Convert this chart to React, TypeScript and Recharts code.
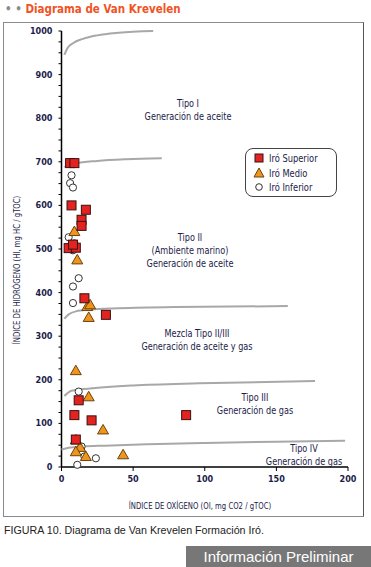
import React from 'react';
import { ScatterChart, Scatter, XAxis, YAxis } from 'recharts';

// Iró Superior (squares)
const superiorOI = [6, 9, 7, 17, 14, 14, 5, 10, 8, 16, 31, 12, 9, 21, 10, 87];
const superiorHI = [697, 697, 600, 590, 567, 553, 502, 503, 510, 387, 349, 153, 119, 107, 63, 119];

// Iró Medio (triangles)
const medioOI = [9, 11, 18, 20, 19, 10, 19, 29, 10, 13, 10, 17, 43];
const medioHI = [540, 475, 368, 372, 343, 221, 161, 85, 62, 45, 35, 24, 28];

// Iró Inferior (circles)
const inferiorOI = [7, 6, 8, 5, 9, 8, 12, 8, 8, 12, 14, 16, 24, 11];
const inferiorHI = [669, 651, 641, 527, 513, 497, 433, 414, 376, 173, 47, 24, 20, 5];

// boundary curves between kerogen types
const tipoIOI = [2, 4, 8, 15, 25, 40, 64];
const tipoIHI = [945, 960, 972, 982, 990, 996, 1000];
const tipoIIIOI = [2, 10, 25, 45, 70];
const tipoIIIHI = [688, 696, 702, 706, 708];
const mezclaOI = [2, 5, 10, 20, 40, 80, 158];
const mezclaHI = [340, 350, 357, 361, 364, 367, 369];
const tipoIIIOI2 = [2, 7, 20, 50, 96, 177];
const tipoIIIHI2 = [163, 175, 180, 187, 192, 197];
const tipoIVOI = [0, 5, 15, 30, 60, 100, 150, 198];
const tipoIVHI = [40, 44, 47, 49, 52, 55, 58, 60];

const yTicks = Array.from({ length: 41 }, (_, i) => i * 25);
const xTicks = [0, 50, 100, 150, 200];

const zip = (xs: number[], ys: number[]) => xs.map((oi, i) => ({ oi, hi: ys[i] }));

const NARROW = '"Liberation Sans Narrow", "DejaVu Sans Condensed", "Liberation Sans", Arial, sans-serif';
const NAVY = '#1c1c4a';

const Square = (p: any) => (
  <rect x={p.cx - 4.5} y={p.cy - 4.5} width={9} height={9} fill="#e3231f" stroke="#3b1010" strokeWidth={1} />
);
const Triangle = (p: any) => (
  <path d={`M${p.cx},${p.cy - 5.5} L${p.cx + 5.5},${p.cy + 4} L${p.cx - 5.5},${p.cy + 4} Z`} fill="#f0951c" stroke="#6a4210" strokeWidth={1} />
);
const Circle = (p: any) => (
  <circle cx={p.cx} cy={p.cy} r={3.6} fill="#fff" stroke="#333" strokeWidth={1} />
);
const NoDot = () => <g />;

const YTick = ({ x, y, payload }: any) => {
  const major = payload.value % 100 === 0;
  return (
    <g>
      <line x1={x - 3} x2={x} y1={y} y2={y} stroke="#000" strokeWidth={1} />
      {major && (
        <text x={x - 9} y={y} dy={3} textAnchor="end" fontSize={9} fontWeight={700} fill={NAVY} fontFamily={NARROW}>
          {payload.value}
        </text>
      )}
    </g>
  );
};

const Note = ({ x, y, lines }: { x: number; y: number; lines: string[] }) => (
  <div
    style={{
      position: 'absolute', left: x, top: y, transform: 'translateX(-50%) scaleX(0.86)', textAlign: 'center',
      fontFamily: NARROW, fontSize: 10.5, lineHeight: '13px', color: NAVY, whiteSpace: 'nowrap',
    }}
  >
    {lines.map((l) => <div key={l}>{l}</div>)}
  </div>
);

const boundary = { stroke: '#a8a8a8', strokeWidth: 2 };

export default function App() {
  return (
    <div style={{ position: 'absolute', left: 0, top: 0, width: 371, height: 567, background: '#fff', overflow: 'hidden' }}>
      <div style={{ position: 'absolute', left: 5, top: 1, fontFamily: NARROW, fontSize: 12.5, fontWeight: 700, whiteSpace: 'nowrap', transform: 'scaleX(0.92)', transformOrigin: 'left' }}>
        <span style={{ color: '#8c8c8c' }}>• • </span>
        <span style={{ color: '#f0531f' }}>Diagrama de Van Krevelen</span>
      </div>

      <div style={{ position: 'absolute', left: 3, top: 22, width: 361, height: 495, boxSizing: 'border-box', border: '1px solid #8a8a8a', borderRightColor: '#555' }} />

      <div style={{ position: 'absolute', left: 4, top: 22 }}>
        <ScatterChart width={359} height={494} margin={{ top: 9, right: 15, bottom: 0, left: 0 }}>
          <XAxis
            type="number" dataKey="oi" domain={[0, 200]} ticks={xTicks} interval={0} height={49}
            axisLine={{ stroke: '#000', strokeWidth: 1.5 }} tickLine={{ stroke: '#000' }} tickSize={4} tickMargin={5}
            tick={{ fontSize: 9, fontWeight: 700, fill: NAVY, fontFamily: NARROW }}
          />
          <YAxis
            type="number" dataKey="hi" domain={[0, 1000]} ticks={yTicks} interval={0} width={57.5}
            axisLine={{ stroke: '#000', strokeWidth: 1.5 }} tickLine={false} tickSize={0} tickMargin={0}
            tick={<YTick />}
          />
          <Scatter data={zip(tipoIOI, tipoIHI)} line={boundary} lineJointType="monotoneX" shape={NoDot} isAnimationActive={false} />
          <Scatter data={zip(tipoIIIOI, tipoIIIHI)} line={boundary} lineJointType="monotoneX" shape={NoDot} isAnimationActive={false} />
          <Scatter data={zip(mezclaOI, mezclaHI)} line={boundary} lineJointType="monotoneX" shape={NoDot} isAnimationActive={false} />
          <Scatter data={zip(tipoIIIOI2, tipoIIIHI2)} line={boundary} lineJointType="monotoneX" shape={NoDot} isAnimationActive={false} />
          <Scatter data={zip(tipoIVOI, tipoIVHI)} line={boundary} lineJointType="monotoneX" shape={NoDot} isAnimationActive={false} />
          <Scatter name="Iró Inferior" data={zip(inferiorOI, inferiorHI)} shape={Circle} isAnimationActive={false} />
          <Scatter name="Iró Medio" data={zip(medioOI, medioHI)} shape={Triangle} isAnimationActive={false} />
          <Scatter name="Iró Superior" data={zip(superiorOI, superiorHI)} shape={Square} isAnimationActive={false} />
        </ScatterChart>
      </div>

      <Note x={188} y={97} lines={['Tipo I', 'Generación de aceite']} />
      <Note x={190} y={231} lines={['Tipo II', '(Ambiente marino)', 'Generación de aceite']} />
      <Note x={197} y={327} lines={['Mezcla Tipo II/III', 'Generación de aceite y gas']} />
      <Note x={255} y={391} lines={['Tipo III', 'Generación de gas']} />
      <Note x={304} y={442} lines={['Tipo IV', 'Generación de gas']} />

      <div
        style={{
          position: 'absolute', left: 245, top: 148, width: 92, height: 49, boxSizing: 'border-box',
          border: '1px solid #444', borderRadius: 8, fontFamily: NARROW, fontSize: 10.5, color: NAVY,
        }}
      >
        {[
          { label: 'Iró Superior', icon: <rect x={2} y={2} width={8} height={8} fill="#e3231f" stroke="#3b1010" /> },
          { label: 'Iró Medio', icon: <path d="M6,1 L11,10 L1,10 Z" fill="#f0951c" stroke="#6a4210" /> },
          { label: 'Iró Inferior', icon: <circle cx={6} cy={6} r={3.3} fill="#fff" stroke="#333" /> },
        ].map((it, i) => (
          <div key={it.label} style={{ position: 'absolute', left: 7, top: 3 + i * 14.5, display: 'flex', alignItems: 'center', whiteSpace: 'nowrap' }}>
            <svg width={12} height={12} style={{ marginRight: 4 }}>{it.icon}</svg>
            <span style={{ display: 'inline-block', transform: 'scaleX(0.88)', transformOrigin: 'left' }}>{it.label}</span>
          </div>
        ))}
      </div>

      <div
        style={{
          position: 'absolute', left: 17, top: 270, transform: 'translate(-50%, -50%) rotate(-90deg) scaleX(0.9)',
          fontFamily: NARROW, fontSize: 8.5, color: NAVY, whiteSpace: 'nowrap',
        }}
      >
        ÍNDICE DE HIDRÓGENO (HI, mg HC / gTOC)
      </div>
      <div
        style={{
          position: 'absolute', left: 200, top: 506, transform: 'translate(-50%, -50%) scaleX(0.9)',
          fontFamily: NARROW, fontSize: 8.5, color: NAVY, whiteSpace: 'nowrap',
        }}
      >
        ÍNDICE DE OXÍGENO (OI, mg CO2 / gTOC)
      </div>

      <div style={{ position: 'absolute', left: 4, top: 524, fontFamily: '"Liberation Sans", Arial, sans-serif', fontSize: 10.7, color: '#222', whiteSpace: 'nowrap' }}>
        FIGURA 10. Diagrama de Van Krevelen Formación Iró.
      </div>
      <div
        style={{
          position: 'absolute', left: 186, top: 546, width: 185, height: 21, background: '#777',
          color: '#fff', fontFamily: '"Liberation Sans", Arial, sans-serif', fontSize: 15,
          lineHeight: '21px', textAlign: 'center',
        }}
      >
        Información Preliminar
      </div>
    </div>
  );
}
